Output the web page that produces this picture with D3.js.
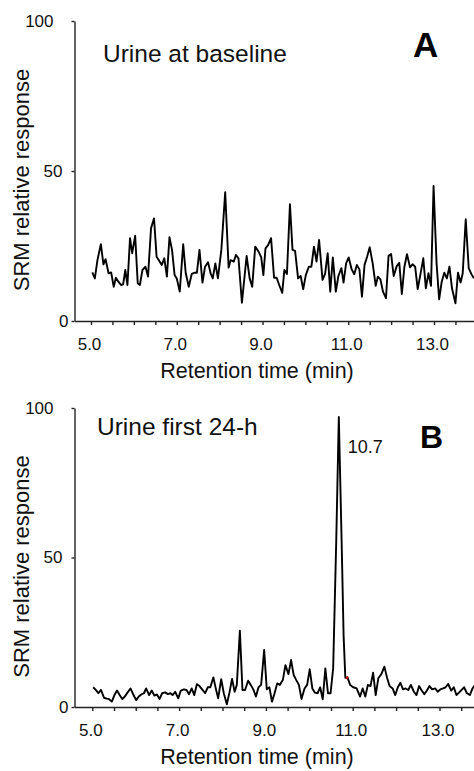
<!DOCTYPE html>
<html>
<head>
<meta charset="utf-8">
<script src="https://cdn.jsdelivr.net/npm/d3@7"></script>
<style>
  body { margin: 0; background: #fff; }
  svg { display: block; font-family: "Liberation Sans", Arial, sans-serif; }
</style>
</head>
<body>
<svg id="chart" width="474" height="771"></svg>
<script>
// ---- data ----
const yTicks = [0, 50, 100]
const xTicks = d3.range(5, 14.01, 0.5)          // minor ticks every 0.5 min
const xTickLabels = [5, 7, 9, 11, 13]

// panel A: urine at baseline
const timeA = [5.03,5.09,5.15,5.23,5.29,5.34,5.41,5.47,5.53,5.58,5.64,5.70,5.75,5.80,5.85,5.91,5.96,6.03,6.09,6.14,
  6.20,6.27,6.33,6.40,6.47,6.53,6.59,6.65,6.71,6.77,6.83,6.89,6.95,7.00,7.07,7.15,7.21,7.28,7.35,7.42,
  7.47,7.53,7.60,7.66,7.73,7.79,7.84,7.90,7.96,8.04,8.13,8.21,8.26,8.33,8.38,8.44,8.52,8.63,8.70,8.76,
  8.83,8.91,8.97,9.02,9.07,9.13,9.20,9.27,9.33,9.39,9.46,9.51,9.57,9.64,9.70,9.76,9.83,9.89,9.95,10.01,
  10.08,10.14,10.20,10.26,10.32,10.40,10.46,10.52,10.58,10.64,10.71,10.77,10.84,10.89,10.95,11.01,11.08,11.14,11.20,11.26,
  11.32,11.38,11.44,11.50,11.57,11.64,11.69,11.75,11.81,11.88,11.94,12.00,12.06,12.13,12.19,12.25,12.31,12.37,12.44,12.50,
  12.56,12.62,12.68,12.75,12.81,12.87,12.93,12.99,13.06,13.12,13.18,13.24,13.30,13.36,13.42,13.50,13.56,13.62,13.67,13.74,
  13.81,13.87,13.93]
const respA = [16.2,14.2,20.3,25.6,18.9,20.6,15.9,16.2,11.4,14.4,13.1,12.0,12.2,17.0,12.0,27.6,22.6,28.4,12.6,12.0,
  17.0,18.1,14.8,30.9,34.2,21.4,20.1,18.7,20.9,14.8,27.9,23.7,15.3,14.2,9.8,25.6,15.9,11.4,15.7,16.1,
  16.1,23.7,12.8,18.1,19.6,15.9,14.2,19.2,14.2,23.7,42.9,17.8,20.3,19.8,22.0,20.9,6.1,21.7,14.2,11.4,
  24.8,23.1,21.2,15.3,24.2,25.3,27.6,14.4,14.4,12.0,9.4,17.0,15.7,38.9,23.7,23.4,14.2,15.0,10.6,15.3,
  18.1,18.1,24.8,19.8,27.0,13.7,15.7,22.6,9.8,21.2,9.8,15.0,17.6,12.8,19.2,21.2,17.2,15.6,18.7,17.2,
  8.1,18.7,21.4,24.6,19.2,11.7,14.8,13.9,9.8,7.6,21.7,22.3,15.0,18.3,19.4,9.0,18.1,22.3,17.9,18.9,
  18.1,10.6,15.3,20.9,10.9,15.9,11.7,45.0,19.2,7.2,13.1,16.1,14.2,18.1,10.9,5.9,16.1,12.8,15.9,33.9,
  17.6,15.7,14.2]

// panel B: urine first 24-h
const timeB = [5.02,5.08,5.14,5.20,5.27,5.33,5.38,5.45,5.51,5.57,5.63,5.69,5.75,5.81,5.88,5.95,6.01,6.07,6.13,6.19,
  6.24,6.31,6.37,6.43,6.49,6.55,6.61,6.68,6.74,6.80,6.85,6.91,6.98,7.04,7.11,7.17,7.23,7.29,7.35,7.41,
  7.47,7.54,7.60,7.66,7.72,7.79,7.85,7.90,7.97,8.03,8.10,8.16,8.22,8.28,8.33,8.40,8.46,8.52,8.59,8.65,
  8.71,8.77,8.83,8.89,8.96,9.02,9.08,9.14,9.20,9.26,9.32,9.39,9.45,9.52,9.58,9.64,9.70,9.76,9.82,9.89,
  9.95,10.01,10.07,10.13,10.19,10.25,10.31,10.37,10.43,10.49,10.55,10.62,10.68,10.75,10.79,10.83,10.88,10.94,11.01,11.09,
  11.17,11.23,11.29,11.35,11.41,11.47,11.53,11.59,11.66,11.73,11.79,11.85,11.92,11.98,12.04,12.10,12.16,12.22,12.28,12.34,
  12.41,12.47,12.53,12.59,12.65,12.71,12.77,12.83,12.90,12.96,13.02,13.08,13.14,13.20,13.27,13.33,13.39,13.45,13.51,13.57,
  13.63,13.70,13.76,13.80,13.86]
const respB = [6.6,5.7,4.6,5.7,3.1,2.8,2.7,1.8,4.0,5.5,4.0,2.7,3.5,4.8,6.2,4.0,2.3,3.5,4.2,4.6,
  6.2,4.0,5.5,3.8,4.2,2.7,4.6,4.9,4.3,4.6,4.0,5.1,2.9,5.5,5.9,5.7,4.3,6.2,4.0,7.6,
  7.0,5.7,4.6,6.6,6.6,9.9,5.9,2.9,9.3,4.6,0.9,4.8,9.4,5.1,7.4,25.5,5.7,5.7,8.8,7.4,
  5.9,3.5,6.6,7.4,19.1,5.9,6.6,1.8,4.6,7.9,7.4,9.0,14.0,11.0,15.7,10.7,9.0,7.4,2.7,6.2,
  7.4,12.6,6.2,4.8,4.6,6.6,2.6,12.9,4.6,4.6,13.0,55,97,52,24,9.8,9.9,7.4,6.6,6.2,
  3.5,6.2,3.5,7.4,7.0,11.5,4.0,9.6,11.0,13.5,9.9,7.0,6.2,4.0,6.6,8.1,5.9,6.2,5.7,7.4,
  5.1,4.0,7.0,5.5,4.3,5.5,7.0,5.9,6.2,5.1,5.9,6.2,6.6,7.7,5.5,6.6,4.0,4.8,5.7,6.6,
  4.6,4.0,6.2,7.0,5.5]

// tiny red segment on the tail of the B peak
const redMarkTime = [10.85, 10.89]
const redMarkResp = [9.4, 10.2]

const peakLabel = {t: 10.7, v: 85, text: "10.7"}

// ---- layout ----
const svg = d3.select("#chart")
const W = 474
const axisX = 74.5
const yLabelShift = {0: 0, 50: -6, 100: -15}

const panels = [
  {time: timeA, resp: respA, top: 21, bottom: 321, x5: 91, x13: 434,
   title: "Urine at baseline", titleX: 103, titleY: 62,
   letter: "A", letterX: 413, letterY: 57, letterSize: 35},
  {time: timeB, resp: respB, top: 408, bottom: 707, x5: 92.3, x13: 439.5,
   title: "Urine first 24-h", titleX: 97, titleY: 435,
   letter: "B", letterX: 420, letterY: 448, letterSize: 32,
   peak: peakLabel, red: true}
]

function drawPanel(p){
  const g = svg.append("g")

  let x = d3.scaleLinear().domain([5, 13]).range([p.x5, p.x13])
  x = x.copy().domain([x.invert(axisX), x.invert(W + 2)]).range([axisX, W + 2])
  const y = d3.scaleLinear().domain([0, 100]).range([p.bottom, p.top])

  // y axis
  const yAxis = g.append("g")
    .attr("transform", `translate(${axisX},0)`)
    .call(d3.axisLeft(y).tickValues(yTicks).tickSize(3).tickPadding(3).tickSizeOuter(0))
  yAxis.selectAll("text")
    .attr("dx", (d) => yLabelShift[d])
    .attr("font-size", 17).attr("fill", "#111")
    .style("font-family", "Liberation Sans, Arial, sans-serif")

  // x axis
  const xAxis = g.append("g")
    .attr("transform", `translate(0,${p.bottom})`)
    .call(d3.axisBottom(x).tickValues(xTicks).tickSize(4).tickPadding(13).tickSizeOuter(0)
      .tickFormat((d) => xTickLabels.includes(d) ? d3.format(".1f")(d) : ""))
  xAxis.selectAll("text")
    .attr("dx", -2)
    .attr("font-size", 17).attr("fill", "#111")
    .style("font-family", "Liberation Sans, Arial, sans-serif")

  g.selectAll(".domain, .tick line").attr("stroke", "#222").attr("stroke-width", 1.4)

  // axis titles
  g.append("text")
    .attr("x", 257).attr("y", p.bottom + 57)
    .attr("text-anchor", "middle").attr("font-size", 21.5).attr("fill", "#111")
    .text("Retention time (min)")

  g.append("text")
    .attr("transform", `translate(29,${(p.top + p.bottom) / 2 + 9}) rotate(-90)`)
    .attr("text-anchor", "middle").attr("font-size", 22).attr("fill", "#111")
    .text("SRM relative response")

  // trace
  const pts = p.time.map((t, i) => [t, p.resp[i]])
  const line = d3.line().x((d) => x(d[0])).y((d) => y(d[1]))
  g.append("path")
    .datum(pts)
    .attr("d", line)
    .attr("fill", "none")
    .attr("stroke", "#000")
    .attr("stroke-width", 1.9)
    .attr("stroke-linejoin", "round")

  if(p.red){
    g.append("path")
      .datum(redMarkTime.map((t, i) => [t, redMarkResp[i]]))
      .attr("d", line)
      .attr("fill", "none")
      .attr("stroke", "#e01010")
      .attr("stroke-width", 1.9)
  }

  // panel title + letter
  g.append("text")
    .attr("x", p.titleX).attr("y", p.titleY)
    .attr("font-size", 24.5).attr("fill", "#111")
    .text(p.title)

  g.append("text")
    .attr("x", p.letterX).attr("y", p.letterY)
    .attr("font-size", p.letterSize).attr("font-weight", "bold").attr("fill", "#000")
    .text(p.letter)

  if(p.peak){
    g.append("text")
      .attr("x", x(p.peak.t) + 8).attr("y", y(p.peak.v))
      .attr("font-size", 18).attr("fill", "#111")
      .text(p.peak.text)
  }
}

panels.forEach(drawPanel)
</script>
</body>
</html>
